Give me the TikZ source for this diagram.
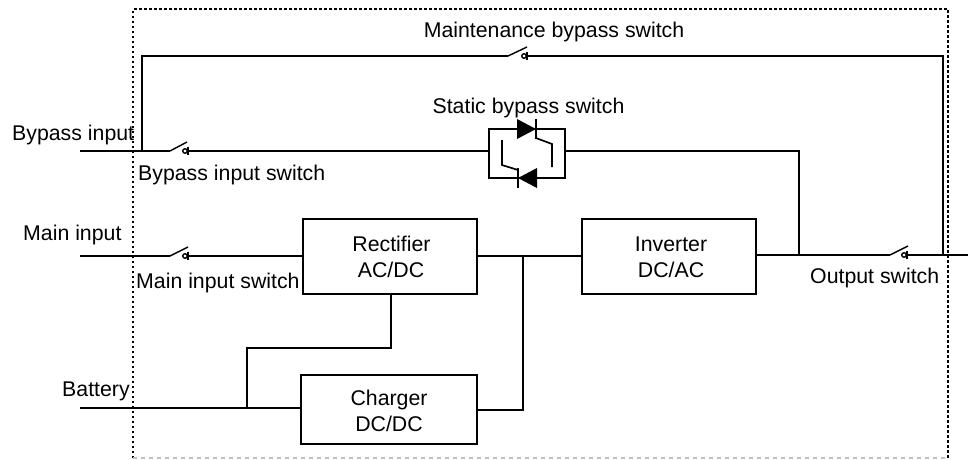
\documentclass[tikz,border=0pt]{standalone}
\usepackage{fontspec}
\setmainfont{Liberation Sans}
\tikzset{
  wire/.style={draw=black,line width=1.7pt},
  blockbox/.style={draw=black,line width=1.7pt,fill=white,inner sep=0pt},
  lbl/.style={inner sep=0pt,font=\fontsize{21.3}{24}\selectfont,text=black},
  blade/.style={draw=black,line width=1.4pt},
  contact/.style={draw=black,line width=1.4pt,fill=white,circle,inner sep=0pt,minimum size=4.5pt},
  frame/.style={draw=black,line width=1.3pt,dash pattern=on 2.5pt off 2.5pt},
  framelow/.style={draw=black!25,line width=1.2pt,dash pattern=on 4pt off 4pt}
}
\begin{document}
\begin{tikzpicture}[x=1pt,y=-1pt]
\useasboundingbox (0,0) rectangle (968,459);
% frame
\coordinate (fa) at (133,9); \coordinate (fb) at (948,9);
\coordinate (fc) at (948,458); \coordinate (fd) at (133,458);
\draw[frame] (fd) -- (fa) -- (fb) -- (fc);
\draw[framelow] (fd) -- (fc);
% blocks
\node[blockbox,minimum width=174pt,minimum height=75.5pt] (rect) at (390,256.5) {};
\node[blockbox,minimum width=174pt,minimum height=75.5pt] (inv) at (669,256.5) {};
\node[blockbox,minimum width=176pt,minimum height=69pt] (chg) at (389,409.5) {};
\node[draw=black,line width=1.7pt,minimum width=76pt,minimum height=49pt,inner sep=0pt] (sbs) at (527,153.5) {};
% block texts
\node[lbl,anchor=base] (t1a) at (391.5,251) {Rectifier};
\node[lbl,anchor=base] (t1b) at (391,277) {AC/DC};
\node[lbl,anchor=base] (t2a) at (671,251) {Inverter};
\node[lbl,anchor=base] (t2b) at (671,277) {DC/AC};
\node[lbl,anchor=base] (t3a) at (389,405) {Charger};
\node[lbl,anchor=base] (t3b) at (389,431) {DC/DC};
% free ends and junctions
\coordinate (bypin) at (80,151);
\coordinate (mainin) at (80,256);
\coordinate (batin) at (80,408);
\coordinate (out) at (968,255);
\coordinate (mbj) at (142,151);
\coordinate (mbt) at (142,56);
\coordinate (mbr) at (943,56);
\coordinate (mbb) at (943,255);
\coordinate (sj) at (799,255);
\coordinate (st) at (799,151);
\coordinate (dcj) at (523,256);
\coordinate (dcb) at (523,410);
\coordinate (baj) at (247,408);
\coordinate (bat) at (247,348);
\coordinate (rb) at (391,348);
\coordinate (rbb) at (391,294);
% switches: S1 bypass, S2 maintenance, S3 main, S4 output
\coordinate (s1a) at (170,151); \coordinate (s1b) at (187,142); \node[contact] (s1c) at (185,151) {};
\coordinate (s2a) at (508,56);  \coordinate (s2b) at (527,47);  \node[contact] (s2c) at (524,56) {};
\coordinate (s3a) at (170,256); \coordinate (s3b) at (188,247); \node[contact] (s3c) at (185,256) {};
\coordinate (s4a) at (890,255); \coordinate (s4b) at (908,246); \node[contact] (s4c) at (904,255) {};
% wires
\draw[wire] (bypin) -- (s1a);
\draw[blade] (s1a) -- (s1b);
\draw[wire] (s1c.east) -- (sbs.west |- s1c);
\draw[wire] (mbj) -- (mbt) -- (s2a);
\draw[blade] (s2a) -- (s2b);
\draw[wire] (s2c.east) -- (mbr) -- (mbb);
\draw[wire] (mainin) -- (s3a);
\draw[blade] (s3a) -- (s3b);
\draw[wire] (s3c.east) -- (rect.west |- s3c);
\draw[wire] (inv.east |- s4a) -- (s4a);
\draw[blade] (s4a) -- (s4b);
\draw[wire] (s4c.east) -- (out);
\draw[wire] (sbs.east |- st) -- (st) -- (sj);
\draw[wire] (rect.east |- dcj) -- (inv.west |- dcj);
\draw[wire] (dcj) -- (dcb) -- (chg.east |- dcb);
\draw[wire] (batin) -- (chg.west |- batin);
\draw[wire] (baj) -- (bat) -- (rb) -- (rbb);
% contact bars
\foreach \c in {s1c,s2c,s3c,s4c} \draw[wire] (\c.east) ++(0,-4) -- ++(0,8);
% thyristors
\fill[black] (517,119) -- (536,129) -- (517,139) -- cycle;
\draw[wire] (536,119) -- (536,139);
\draw[wire] (536,138) -- (552,144) -- (552,167);
\fill[black] (537,168) -- (518,178) -- (537,188) -- cycle;
\draw[wire] (518,168) -- (518,188);
\draw[wire] (518,170) -- (502,165) -- (502,140);
% labels
\node[lbl,anchor=base] (l1) at (554,37) {Maintenance bypass switch};
\node[lbl,anchor=base] (l2) at (528.5,113) {Static bypass switch};
\node[lbl,anchor=base west] (l3) at (12,140) {Bypass input};
\node[lbl,anchor=base west] (l4) at (138,180) {Bypass input switch};
\node[lbl,anchor=base west] (l5) at (23,240) {Main input};
\node[lbl,anchor=base west] (l6) at (136,288) {Main input switch};
\node[lbl,anchor=base west] (l7) at (810,283) {Output switch};
\node[lbl,anchor=base west] (l8) at (62,396) {Battery};
\end{tikzpicture}
\end{document}
